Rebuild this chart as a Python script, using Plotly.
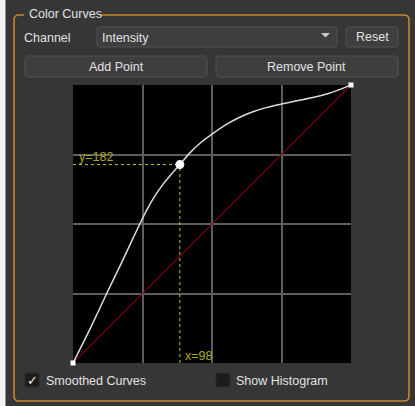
import plotly.graph_objects as go

W, H = 415, 406

# ---- data ----
curve_x = [0, 16, 31, 46, 60, 68, 75, 83, 90, 98, 107, 117, 127.5, 140, 152, 165, 178, 191, 205, 220, 235, 245, 255]
curve_y = [0, 32, 64, 95, 125, 141, 153, 164.5, 173, 182, 192.5, 202, 210, 218.5, 225, 230.5, 234.5, 237.5, 240.5, 243.5, 247.5, 251, 255]
control_x = [98]
control_y = [182]
end_x = [0, 255]
end_y = [0, 255]
diag_x = [0, 255]
diag_y = [0, 255]
grid_vals = [63.75, 127.5, 191.25]
sel_label_x = "x=98"
sel_label_y = "y=182"

BG = "#363636"
BTN = "#3e3e3e"
BTN_EDGE = "#525252"
TXT = "#e2e2e2"
ORANGE = "#c8862c"
YEL_LINE = "#c8c814"
YEL_TXT = "#aaaa22"
FONT = "Liberation Sans"


def fx(x):
    return x / W


def fy(y):
    return 1 - y / H


def path_str(seg):
    s = ""
    for cmd, ps in seg:
        s += cmd + " " + " ".join(f"{fx(a):.5f},{fy(b):.5f}" for a, b in ps) + " "
    return s


def rrect_path(x0, y0, x1, y1, r):
    seg = [
        ("M", [(x0 + r, y0)]), ("L", [(x1 - r, y0)]), ("Q", [(x1, y0), (x1, y0 + r)]),
        ("L", [(x1, y1 - r)]), ("Q", [(x1, y1), (x1 - r, y1)]), ("L", [(x0 + r, y1)]),
        ("Q", [(x0, y1), (x0, y1 - r)]), ("L", [(x0, y0 + r)]), ("Q", [(x0, y0), (x0 + r, y0)]),
    ]
    return path_str(seg) + "Z"


fig = go.Figure()

# diagonal reference
fig.add_trace(go.Scatter(x=diag_x, y=diag_y, mode="lines",
                         line=dict(color="#7a0a0a", width=1.2), hoverinfo="skip"))
# guide lines
fig.add_trace(go.Scatter(x=[0, control_x[0]], y=[control_y[0], control_y[0]], mode="lines",
                         line=dict(color=YEL_LINE, width=1, dash="dot"), hoverinfo="skip"))
fig.add_trace(go.Scatter(x=[control_x[0], control_x[0]], y=[0, control_y[0]], mode="lines",
                         line=dict(color=YEL_LINE, width=1, dash="dot"), hoverinfo="skip"))
# curve
fig.add_trace(go.Scatter(x=curve_x, y=curve_y, mode="lines",
                         line=dict(color="#dcdcdc", width=1.5, shape="spline", smoothing=0.6),
                         hoverinfo="skip"))
# end points
fig.add_trace(go.Scatter(x=end_x, y=end_y, mode="markers", cliponaxis=False,
                         marker=dict(symbol="square", size=5, color="white"), hoverinfo="skip"))
# selected control point
fig.add_trace(go.Scatter(x=control_x, y=control_y, mode="markers", cliponaxis=False,
                         marker=dict(symbol="circle", size=9, color="white"), hoverinfo="skip"))

shapes = []
# left white strip
shapes.append(dict(type="rect", xref="paper", yref="paper", x0=0, x1=fx(5.5), y0=0, y1=1,
                   fillcolor="#f2f2f2", line=dict(width=0), layer="below"))
# group box border with gap for title
gx0, gy0, gx1, gy1, r = 14, 15, 409, 401, 5
seg = [
    ("M", [(24, gy0)]), ("L", [(gx0 + r, gy0)]), ("Q", [(gx0, gy0), (gx0, gy0 + r)]),
    ("L", [(gx0, gy1 - r)]), ("Q", [(gx0, gy1), (gx0 + r, gy1)]), ("L", [(gx1 - r, gy1)]),
    ("Q", [(gx1, gy1), (gx1, gy1 - r)]), ("L", [(gx1, gy0 + r)]), ("Q", [(gx1, gy0), (gx1 - r, gy0)]),
    ("L", [(101, gy0)]),
]
shapes.append(dict(type="path", xref="paper", yref="paper", path=path_str(seg),
                   line=dict(color=ORANGE, width=1.6)))

# buttons / combo
for (x0, y0, x1, y1) in [(97, 27, 337, 47), (346, 27, 398, 47), (25, 56, 207, 77), (216, 56, 398, 77)]:
    shapes.append(dict(type="path", xref="paper", yref="paper", path=rrect_path(x0, y0, x1, y1, 3),
                       fillcolor=BTN, line=dict(color=BTN_EDGE, width=1)))
# combo arrow
ap = f"M {fx(321):.5f},{fy(33):.5f} L {fx(330):.5f},{fy(33):.5f} L {fx(325.5):.5f},{fy(37.5):.5f} Z"
shapes.append(dict(type="path", xref="paper", yref="paper", path=ap,
                   fillcolor="#c8c8c8", line=dict(width=0)))
# checkboxes
for (x0, y0, x1, y1) in [(25, 373, 39, 387), (216, 373, 230, 387)]:
    shapes.append(dict(type="rect", xref="paper", yref="paper", x0=fx(x0), x1=fx(x1), y0=fy(y1), y1=fy(y0),
                       fillcolor="#1c1c1c", line=dict(color="#2a2a2a", width=1)))

ann = []


def text(x, y, s, size=12.5, color=TXT, anchor="left", family=FONT):
    ann.append(dict(x=fx(x), y=fy(y), xref="paper", yref="paper", text=s, showarrow=False,
                    xanchor=anchor, yanchor="middle", font=dict(family=family, size=size, color=color)))


text(27, 14.5, "Color Curves")
text(22, 38, "Channel")
text(100, 38, "Intensity")
text(372, 37, "Reset", anchor="center")
text(116, 67, "Add Point", anchor="center")
text(306, 67, "Remove Point", anchor="center")
text(32, 380, "✓", size=13, color="#f0f0f0", anchor="center", family="DejaVu Sans")
text(44, 381, "Smoothed Curves")
text(234, 381, "Show Histogram")
text(77, 157, sel_label_y, size=12.5, color=YEL_TXT)
text(183, 356, sel_label_x, size=12.5, color=YEL_TXT)

ax = dict(range=[0, 255], showticklabels=False, ticks="", tickvals=grid_vals,
          showgrid=True, gridcolor="#5e5e5e", gridwidth=2, zeroline=False, showline=False,
          fixedrange=True)

fig.update_layout(
    width=W, height=H, margin=dict(l=0, r=0, t=0, b=0),
    paper_bgcolor=BG, plot_bgcolor="#000000", showlegend=False,
    xaxis=dict(domain=[fx(73), fx(351)], **ax),
    yaxis=dict(domain=[fy(363), fy(85)], **ax),
    shapes=shapes, annotations=ann,
)

fig.write_html("out.html", config={"displayModeBar": False},
               post_script="document.body.style.margin='0';document.body.style.overflow='hidden';")
